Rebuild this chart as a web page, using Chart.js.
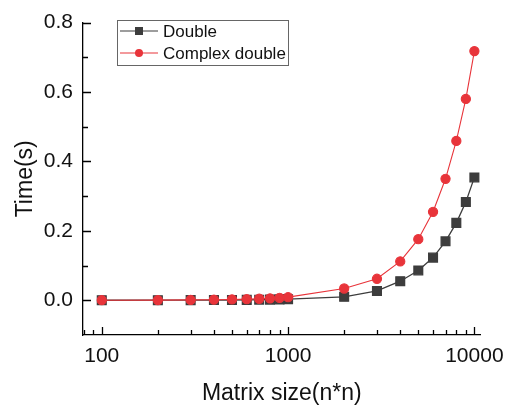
<!DOCTYPE html>
<html>
<head>
<meta charset="utf-8">
<title>Matrix size vs time</title>
<script src="https://cdn.jsdelivr.net/npm/chart.js@4.4.1/dist/chart.umd.min.js"></script>
<style>
  html, body { margin: 0; padding: 0; background: #fff; }
  #chart-canvas { display: block; }
</style>
</head>
<body>
<canvas id="chart-canvas" width="513" height="407"></canvas>
<script>
//////////////////////////////////////////////////
/////       Data                    //////////////
//////////////////////////////////////////////////

var sizes = [100, 200, 300, 400, 500, 600, 700, 800, 900, 1000,
             2000, 3000, 4000, 5000, 6000, 7000, 8000, 9000, 10000];
var doubleTime = [0.0001, 0.0002, 0.0004, 0.0006, 0.0009, 0.0012, 0.0016, 0.0020, 0.0026, 0.0032,
                  0.010, 0.027, 0.055, 0.086, 0.123, 0.170, 0.223, 0.283, 0.354];
var complexTime = [0.0003, 0.0006, 0.0011, 0.0017, 0.0024, 0.0033, 0.0044, 0.0057, 0.0072, 0.009,
                   0.034, 0.062, 0.112, 0.176, 0.255, 0.350, 0.459, 0.580, 0.718];
var xTickValues = [100, 1000, 10000];
var yTickValues = [0.0, 0.2, 0.4, 0.6, 0.8];
var seriesNames = ["Double", "Complex double"];

var GRAY = "#3d3d3d";
var RED = "rgb(232,52,58)";
var FONT = "'Liberation Sans', Arial, sans-serif";

function toPoints(ys) {
    return sizes.map(function (s, i) { return { x: s, y: ys[i] }; });
}

//////////////////////////////////////////////////
/////       Inward ticks + legend   //////////////
//////////////////////////////////////////////////

var innerTicks = {
    id: 'innerTicks',
    afterDraw: function (chart) {
        var ctx = chart.ctx;
        var xs = chart.scales.x, ys = chart.scales.y;
        var area = chart.chartArea;
        ctx.save();
        ctx.strokeStyle = "#000";
        ctx.lineWidth = 1.3;
        ctx.beginPath();
        // x: major + minor (log)
        for (var d = 10; d <= 10000; d *= 10) {
            for (var m = 1; m <= 9; m++) {
                var v = d * m;
                if (v < xs.min || v > xs.max) continue;
                var px = Math.round(xs.getPixelForValue(v)) + 0.5;
                var len = (m === 1) ? 8 : 5;
                ctx.moveTo(px, area.bottom);
                ctx.lineTo(px, area.bottom - len);
            }
        }
        // y: major + minor
        for (var t = 0; t <= 8; t++) {
            var yv = t / 10;
            var py = Math.round(ys.getPixelForValue(yv)) + 0.5;
            var l = (t % 2 === 0) ? 8 : 5;
            ctx.moveTo(area.left, py);
            ctx.lineTo(area.left + l, py);
        }
        ctx.stroke();
        ctx.restore();
    }
};

var boxLegend = {
    id: 'boxLegend',
    afterDraw: function (chart) {
        var ctx = chart.ctx;
        ctx.save();
        ctx.strokeStyle = "#666";
        ctx.lineWidth = 1;
        ctx.strokeRect(117.5, 20.5, 171, 45);
        ctx.font = "17px " + FONT;
        ctx.textBaseline = "middle";
        ctx.fillStyle = "#111";
        var rows = [31, 53];
        chart.data.datasets.forEach(function (ds, i) {
            var y = rows[i];
            ctx.strokeStyle = ds.borderColor;
            ctx.lineWidth = 1.2;
            ctx.beginPath();
            ctx.moveTo(120, y);
            ctx.lineTo(158, y);
            ctx.stroke();
            ctx.fillStyle = ds.pointBackgroundColor;
            ctx.beginPath();
            if (ds.pointStyle === 'rect') {
                ctx.rect(135, y - 4, 8, 8);
            } else {
                ctx.arc(139, y, 4, 0, Math.PI * 2);
            }
            ctx.fill();
            ctx.fillStyle = "#111";
            ctx.fillText(ds.label, 163, y + 1);
        });
        ctx.restore();
    }
};

//////////////////////////////////////////////////
/////       Chart                   //////////////
//////////////////////////////////////////////////

var ctx = document.getElementById('chart-canvas').getContext('2d');
var myChart = new Chart(ctx, {
    type: 'line',
    data: {
        datasets: [
            {
                label: seriesNames[0],
                data: toPoints(doubleTime),
                borderColor: GRAY,
                backgroundColor: GRAY,
                pointBackgroundColor: GRAY,
                pointBorderColor: GRAY,
                pointStyle: 'rect',
                pointRadius: 6.2,
                borderWidth: 1.3,
                tension: 0,
                order: 1
            },
            {
                label: seriesNames[1],
                data: toPoints(complexTime),
                borderColor: RED,
                backgroundColor: RED,
                pointBackgroundColor: RED,
                pointBorderColor: RED,
                pointStyle: 'circle',
                pointRadius: 4.6,
                borderWidth: 1.1,
                tension: 0,
                order: 0
            }
        ]
    },
    options: {
        responsive: false,
        animation: false,
        layout: { padding: { top: 16, right: 27, left: 0, bottom: 0 } },
        plugins: {
            legend: { display: false },
            tooltip: { enabled: false }
        },
        scales: {
            x: {
                type: 'logarithmic',
                min: 79.3,
                max: 10790,
                afterFit: function (s) { s.height = 72; },
                afterBuildTicks: function (s) {
                    s.ticks = xTickValues.map(function (v) { return { value: v, major: true }; });
                },
                ticks: {
                    autoSkip: false,
                    maxRotation: 0,
                    padding: 9,
                    color: "#111",
                    font: { family: FONT, size: 21 },
                    callback: function (v) { return String(v); }
                },
                grid: { drawOnChartArea: false, drawTicks: false },
                border: { color: "#000", width: 1.3 },
                title: {
                    display: true,
                    text: "Matrix size(n*n)",
                    color: "#111",
                    font: { family: FONT, size: 23 },
                    padding: { top: 0, bottom: 0 }
                }
            },
            y: {
                min: -0.1,
                max: 0.8,
                afterFit: function (s) { s.width = 83; },
                afterBuildTicks: function (s) {
                    s.ticks = yTickValues.map(function (v) { return { value: v }; });
                },
                ticks: {
                    padding: 10,
                    color: "#111",
                    font: { family: FONT, size: 21 },
                    callback: function (v) { return Number(v).toFixed(1); }
                },
                grid: { drawOnChartArea: false, drawTicks: false },
                border: { color: "#000", width: 1.3 },
                title: {
                    display: true,
                    text: "Time(s)",
                    color: "#111",
                    font: { family: FONT, size: 23 },
                    padding: { top: 12, bottom: 0 }
                }
            }
        }
    },
    plugins: [innerTicks, boxLegend]
});
</script>
</body>
</html>
